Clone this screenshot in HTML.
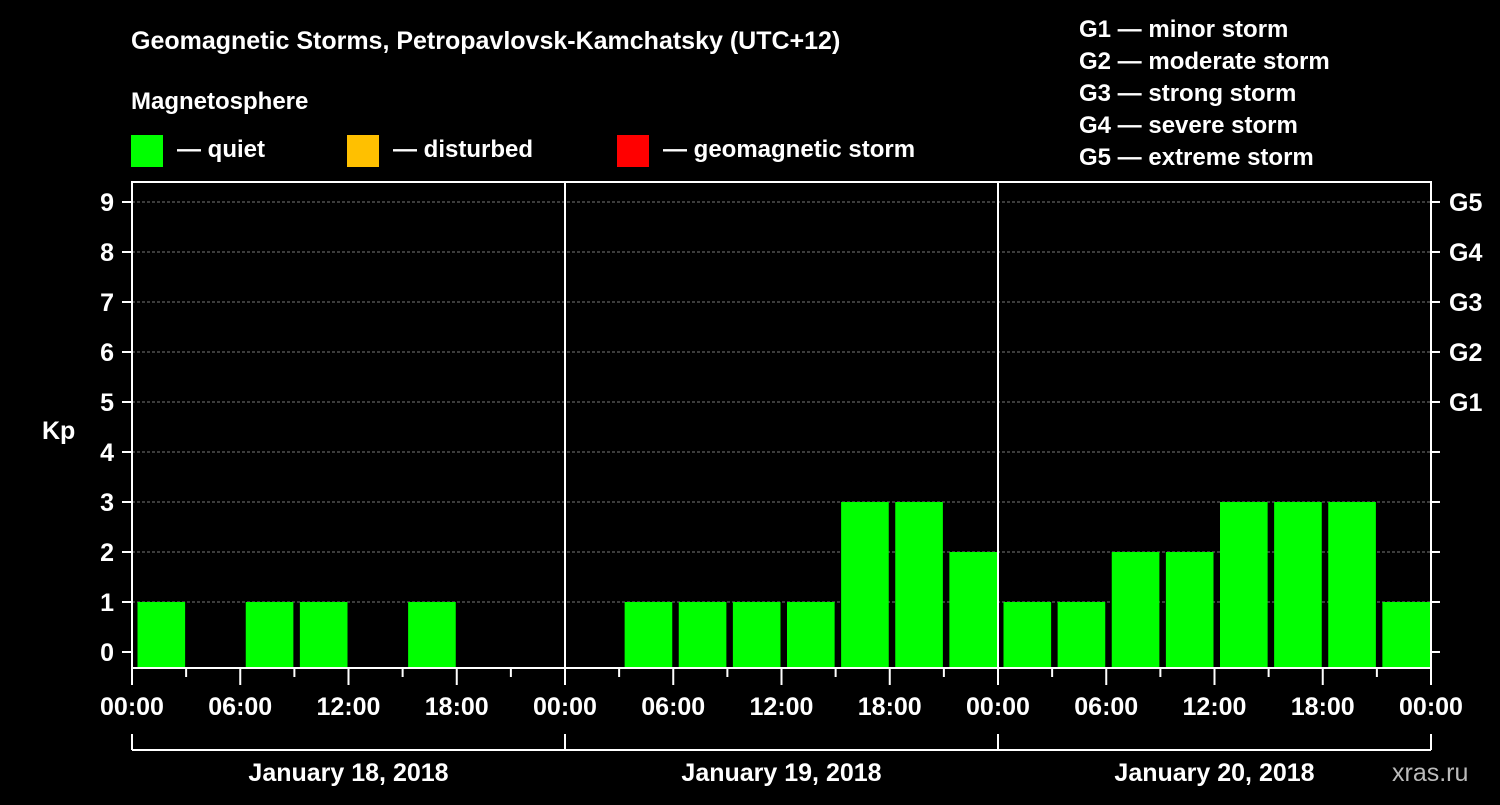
<!DOCTYPE html>
<html><head><meta charset="utf-8"><style>
body{margin:0;background:#000;width:1500px;height:800px;overflow:hidden}
svg text{font-family:"Liberation Sans",sans-serif;font-weight:bold;fill:#fff}
</style></head><body>
<svg id="c" width="1500" height="800">
<text x="131" y="49" font-size="25">Geomagnetic Storms, Petropavlovsk-Kamchatsky (UTC+12)</text>
<text x="131" y="109" font-size="24">Magnetosphere</text>
<rect x="131" y="135" width="32" height="32" fill="#00ff00"/>
<text x="177" y="157" font-size="24">— quiet</text>
<rect x="347" y="135" width="32" height="32" fill="#ffc000"/>
<text x="393" y="157" font-size="24">— disturbed</text>
<rect x="617" y="135" width="32" height="32" fill="#ff0000"/>
<text x="663" y="157" font-size="24">— geomagnetic storm</text>
<g font-size="24">
<text x="1079" y="37">G1 — minor storm</text>
<text x="1079" y="69">G2 — moderate storm</text>
<text x="1079" y="101">G3 — strong storm</text>
<text x="1079" y="133">G4 — severe storm</text>
<text x="1079" y="165">G5 — extreme storm</text>
</g>
<text x="42" y="439" font-size="25">Kp</text>
<text x="1392" y="781" font-size="25" fill="#ccc" style="fill:#bbb;font-weight:normal">xras.ru</text>
<g id="plot"></g>
</svg>
<script>
const days=["January 18, 2018","January 19, 2018","January 20, 2018"];
const kpValues=[1,0,1,1,0,1,0,0, 0,1,1,1,1,3,3,2, 1,1,2,2,3,3,3,1];
const xTickLabels=["00:00","06:00","12:00","18:00"];
const yTicks=[0,1,2,3,4,5,6,7,8,9];
const gLabels={5:"G1",6:"G2",7:"G3",8:"G4",9:"G5"};
const L=132,R=1431,T=182,B=668;
const slotW=(R-L)/24;
const x=i=>L+i*slotW;
const y=v=>652-v*50;
const NS="http://www.w3.org/2000/svg";
const g=document.getElementById('plot');
function mk(t,a){const e=document.createElementNS(NS,t);for(const k in a)e.setAttribute(k,a[k]);g.appendChild(e);return e;}
yTicks.forEach(v=>{
 if(v>0){const gl=mk('line',{x1:L,x2:R,y1:y(v),y2:y(v),stroke:'#777','stroke-dasharray':'3,2','stroke-width':1});
 
 }
 const t1=mk('line',{x1:L-10,x2:L,y1:y(v),y2:y(v),stroke:'#fff','stroke-width':2});
 
 
 const t2=mk('line',{x1:R,x2:R+9,y1:y(v),y2:y(v),stroke:'#fff','stroke-width':2});
 
 
 const tl=mk('text',{x:L-18,y:y(v)+9,'font-size':25,'text-anchor':'end'});tl.textContent=v;
 
 
 if(gLabels[v]){const gt=mk('text',{x:1449,y:y(v)+9,'font-size':25});gt.textContent=gLabels[v];
 
 }
});
kpValues.forEach((v,i)=>{
 if(v<=0)return;
 const c=v>=5?'#ff0000':(v>=4?'#ffc000':'#00ff00');
 const b=mk('rect',{x:x(i)+5.5,y:y(v),width:slotW-6.5,height:B-y(v),fill:c});
 
 
});
for(let i=0;i<=24;i++){
 const major=i%2==0;
 const t=mk('line',{x1:x(i),x2:x(i),y1:B,y2:B+(major?17:9),stroke:'#fff','stroke-width':2});
 
 
 if(i%8==0&&i>0&&i<24){const d=mk('line',{x1:x(i),x2:x(i),y1:T,y2:B,stroke:'#fff','stroke-width':2});
 
 }
 if(i%2==0){const lbl=mk('text',{x:x(i),y:715,'font-size':25,'text-anchor':'middle'});
 lbl.textContent=xTickLabels[(i/2)%4];
 
 }
}
const fr=mk('rect',{x:L,y:T,width:R-L,height:B-T,fill:'none',stroke:'#fff','stroke-width':2});


const br=mk('line',{x1:L,x2:R,y1:750,y2:750,stroke:'#fff','stroke-width':2});


days.forEach((d,k)=>{
 const v=mk('line',{x1:x(k*8),x2:x(k*8),y1:734,y2:750,stroke:'#fff','stroke-width':2});
 
 
 const t=mk('text',{x:x(k*8+4),y:781,'font-size':25,'text-anchor':'middle'});t.textContent=d;
 
 
});
const ve=mk('line',{x1:R,x2:R,y1:734,y2:750,stroke:'#fff','stroke-width':2});


</script>
</body></html>
